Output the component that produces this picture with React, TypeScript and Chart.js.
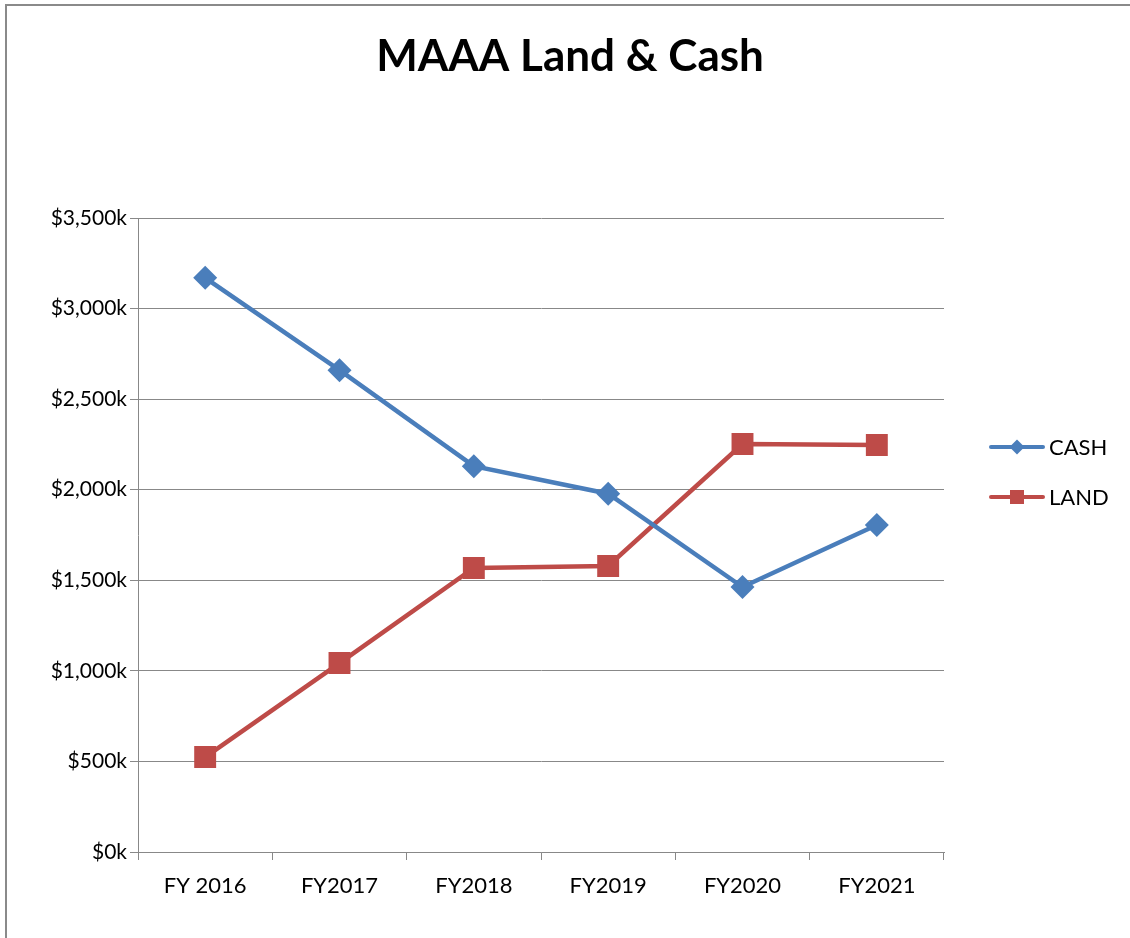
import React, { useEffect, useRef } from "react";
import { Chart, registerables } from "chart.js";

Chart.register(...registerables);

const categories = ["FY 2016", "FY2017", "FY2018", "FY2019", "FY2020", "FY2021"];
const cashValues = [3170, 2660, 2130, 1978, 1463, 1805];
const landValues = [524, 1043, 1568, 1579, 2252, 2247];
const chartTitle = "MAAA Land & Cash";
const seriesNames = ["CASH", "LAND"];
const yMax = 3500;
const yStep = 500;

const BLUE = "#4A7EBB";
const RED = "#BE4B48";
const FONT = "Lato, 'Open Sans', sans-serif";

const overlayPlugin = {
  id: "overlay",
  afterDraw(chart: any) {
    const ctx = chart.ctx;
    ctx.save();
    ctx.fillStyle = "#000";
    ctx.font = `bold 44px ${FONT}`;
    ctx.textAlign = "center";
    ctx.textBaseline = "middle";
    ctx.fillText(chartTitle, 570, 57);

    const items = [
      { name: seriesNames[0], color: BLUE, y: 447, shape: "diamond" },
      { name: seriesNames[1], color: RED, y: 497, shape: "square" },
    ];
    items.forEach((it) => {
      ctx.strokeStyle = it.color;
      ctx.lineWidth = 4;
      ctx.lineCap = "round";
      ctx.beginPath();
      ctx.moveTo(991, it.y);
      ctx.lineTo(1043, it.y);
      ctx.stroke();
      ctx.fillStyle = it.color;
      ctx.beginPath();
      if (it.shape === "diamond") {
        const r = 7.5;
        ctx.moveTo(1017, it.y - r);
        ctx.lineTo(1017 + r, it.y);
        ctx.lineTo(1017, it.y + r);
        ctx.lineTo(1017 - r, it.y);
        ctx.closePath();
      } else {
        ctx.rect(1017 - 7, it.y - 7, 14, 14);
      }
      ctx.fill();
      ctx.fillStyle = "#000";
      ctx.font = `22px ${FONT}`;
      ctx.textAlign = "left";
      ctx.textBaseline = "middle";
      ctx.fillText(it.name, 1049, it.y + 1);
    });
    ctx.restore();
  },
};

export default function App() {
  const ref = useRef<HTMLCanvasElement | null>(null);
  useEffect(() => {
    if (!ref.current) return;
    const chart = new Chart(ref.current, {
      type: "line",
      data: {
        labels: categories,
        datasets: [
          {
            label: seriesNames[0],
            data: cashValues,
            borderColor: BLUE,
            backgroundColor: BLUE,
            borderWidth: 4.5,
            pointStyle: "rectRot",
            pointRadius: 12,
            pointBorderWidth: 0,
            pointBackgroundColor: BLUE,
            tension: 0,
          },
          {
            label: seriesNames[1],
            data: landValues,
            borderColor: RED,
            backgroundColor: RED,
            borderWidth: 4.5,
            pointStyle: "rect",
            pointRadius: 15.5,
            pointBorderWidth: 0,
            pointBackgroundColor: RED,
            tension: 0,
          },
        ],
      },
      options: {
        animation: false,
        responsive: false,
        layout: { padding: { top: 218, right: 186, left: 0, bottom: 0 } },
        plugins: {
          legend: { display: false },
          title: { display: false },
          tooltip: { enabled: false },
        },
        scales: {
          x: {
            type: "category",
            offset: true,
            afterFit: (s: any) => {
              s.height = 86;
            },
            grid: {
              offset: true,
              drawOnChartArea: false,
              drawTicks: true,
              tickLength: 8,
              color: "#888888",
              lineWidth: 1,
            },
            border: { display: true, color: "#888888", width: 1 },
            ticks: {
              color: "#000",
              font: { family: FONT, size: 22 },
              padding: 13,
              maxRotation: 0,
            },
          },
          y: {
            min: 0,
            max: yMax,
            afterFit: (s: any) => {
              s.width = 138;
            },
            grid: {
              color: "#888888",
              lineWidth: 1,
              tickLength: 8,
              drawTicks: true,
            },
            border: { display: true, color: "#888888", width: 1 },
            ticks: {
              stepSize: yStep,
              color: "#000",
              font: { family: FONT, size: 21 },
              padding: 3,
              callback: (v: any) => "$" + Number(v).toLocaleString("en-US") + "k",
            },
          },
        },
      },
      plugins: [overlayPlugin],
    });
    return () => chart.destroy();
  }, []);

  return (
    <div
      style={{
        position: "fixed",
        left: 0,
        top: 0,
        width: 1130,
        height: 938,
        overflow: "hidden",
        background: "#fff",
      }}
    >
      <canvas ref={ref} width={1130} height={938} style={{ position: "absolute", left: 0, top: 0 }} />
      <div
        style={{
          position: "absolute",
          left: 5,
          top: 4,
          width: 1300,
          height: 1100,
          borderTop: "2px solid #8A8A8A",
          borderLeft: "2px solid #8A8A8A",
          pointerEvents: "none",
        }}
      />
    </div>
  );
}
